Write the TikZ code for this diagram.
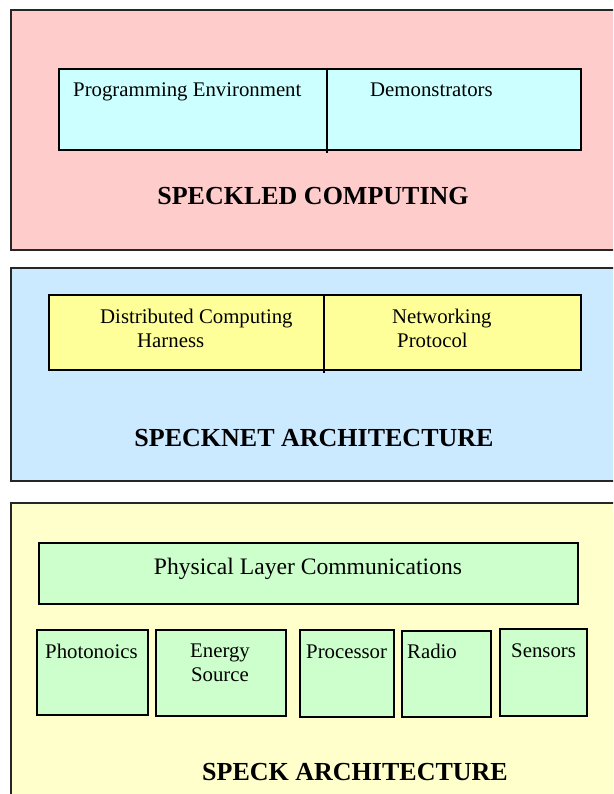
\documentclass[tikz,border=0pt]{standalone}
\usepackage{fontspec}
\setmainfont{Liberation Serif}

\definecolor{layerpink}{HTML}{FFCCCC}
\definecolor{layerblue}{HTML}{CCEAFF}
\definecolor{layercream}{HTML}{FFFFCC}
\definecolor{boxcyan}{HTML}{CCFFFF}
\definecolor{boxyellow}{HTML}{FFFF99}
\definecolor{boxgreen}{HTML}{CCFFCC}

\begin{document}
\begin{tikzpicture}[x=1pt,y=-1pt,
    panel/.style={draw=black!85,line width=1.1pt},
    box/.style={draw=black,line width=1.8pt,anchor=north west,inner sep=0pt},
    txt/.style={font=\fontsize{20.8}{24}\selectfont,inner sep=0pt},
    layertitle/.style={font=\fontsize{26}{30}\selectfont\bfseries,inner sep=0pt,anchor=base}]

    \useasboundingbox (0,0) rectangle (613,794);
    \clip (0,0) rectangle (613,794);

    % Layer panels (run off the right edge)
    \draw[panel,fill=layerpink] (11,10) rectangle (640,250);
    \draw[panel,fill=layerblue] (11,268) rectangle (640,481);
    \draw[panel,fill=layercream] (11,503) rectangle (640,820);

    % Speckled computing
    \node[box,fill=boxcyan,minimum width=522,minimum height=81] (apps) at (58,68) {};
    \coordinate (appsdiv) at (327,68);
    \draw[line width=1.8pt] (appsdiv) -- ++(0,85);
    \node[txt,anchor=base west] (progenv) at (73,97) {Programming Environment};
    \node[txt,anchor=base west] (demos) at (370,97) {Demonstrators};
    \node[layertitle] (speckled) at (313,205) {SPECKLED COMPUTING};

    % Specknet architecture
    \node[box,fill=boxyellow,minimum width=532,minimum height=75] (net) at (48,294) {};
    \coordinate (netdiv) at (324,294);
    \draw[line width=1.8pt] (netdiv) -- ++(0,79);
    \node[txt,anchor=north west,align=left] (harness) at (100,309)
        {Distributed Computing\\\hspace*{37pt}Harness};
    \node[txt,anchor=north west,align=left] (protocol) at (392,309)
        {Networking\\\hspace*{5pt}Protocol};
    \node[layertitle] (specknet) at (314,446) {SPECKNET ARCHITECTURE};

    % Speck architecture
    \node[box,fill=boxgreen,minimum width=539,minimum height=61] (phy) at (38,542) {};
    \node[txt,font=\fontsize{23.6}{28}\selectfont,anchor=base] (phytxt) at (308,574) {Physical Layer Communications};

    \node[box,fill=boxgreen,minimum width=111,minimum height=85] (photo) at (36,629) {};
    \node[box,fill=boxgreen,minimum width=130,minimum height=86] (energy) at (155,629) {};
    \node[box,fill=boxgreen,minimum width=94,minimum height=87] (proc) at (299,629) {};
    \node[box,fill=boxgreen,minimum width=89,minimum height=86] (radio) at (401,630) {};
    \node[box,fill=boxgreen,minimum width=87,minimum height=87] (sensors) at (499,628) {};

    \node[txt,anchor=base west] (phototxt) at (45,658) {Photonoics};
    \node[txt,anchor=north,align=center] (energytxt) at (220,644) {Energy\\Source};
    \node[txt,anchor=base west] (proctxt) at (306,658) {Processor};
    \node[txt,anchor=base west] (radiotxt) at (407,658) {Radio};
    \node[txt,anchor=base west] (sensorstxt) at (511,657) {Sensors};
    \node[layertitle] (speck) at (355,780) {SPECK ARCHITECTURE};

\end{tikzpicture}
\end{document}
